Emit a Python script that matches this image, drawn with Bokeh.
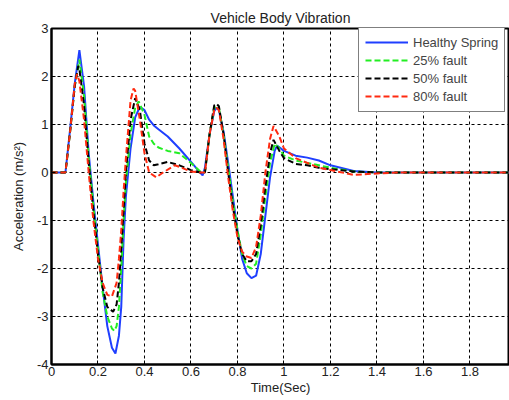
from bokeh.plotting import figure
from bokeh.models import Range1d, FixedTicker, CustomJSTickFormatter
from bokeh.embed import file_html
from bokeh.resources import INLINE

# ---- data ----
t_healthy = [0, 0.06, 0.08, 0.10, 0.12, 0.14, 0.16, 0.18, 0.20, 0.22, 0.24, 0.26, 0.275, 0.29, 0.30, 0.31, 0.32, 0.34,
             0.36, 0.38, 0.40, 0.42, 0.44, 0.46, 0.50, 0.55, 0.60, 0.63, 0.65, 0.66, 0.68, 0.70, 0.71, 0.72, 0.74,
             0.76, 0.78, 0.80, 0.82, 0.84, 0.86, 0.88, 0.90, 0.92, 0.94, 0.96, 0.97, 1.00, 1.05, 1.10, 1.15, 1.20,
             1.30, 1.40, 1.60, 1.80, 2.00]
a_healthy = [0, 0, 0.9, 1.85, 2.55, 1.8, 0.4, -0.6, -1.5, -2.4, -3.2, -3.65, -3.77, -3.4, -2.8, -1.4, -0.5, 0.5,
             1.15, 1.37, 1.3, 1.1, 0.98, 0.9, 0.75, 0.5, 0.22, 0.05, -0.06, 0.1, 0.8, 1.28, 1.35, 1.3, 0.85,
             0.2, -0.5, -1.2, -1.8, -2.1, -2.2, -2.15, -1.7, -0.9, -0.1, 0.45, 0.56, 0.45, 0.35, 0.31, 0.25, 0.15,
             0.03, 0.0, 0.0, 0.0, 0.0]

t_25 = [0, 0.06, 0.08, 0.10, 0.12, 0.14, 0.16, 0.18, 0.20, 0.22, 0.24, 0.26, 0.27, 0.28, 0.29, 0.30, 0.31, 0.32, 0.34,
        0.36, 0.375, 0.40, 0.42, 0.44, 0.46, 0.50, 0.55, 0.60, 0.64, 0.66, 0.68, 0.70, 0.71, 0.72, 0.74,
        0.76, 0.78, 0.80, 0.82, 0.84, 0.86, 0.88, 0.90, 0.92, 0.94, 0.96, 0.98, 1.00, 1.05, 1.10, 1.15, 1.20,
        1.30, 1.40, 1.60, 1.80, 2.00]
a_25 = [0, 0, 0.85, 1.8, 2.35, 1.6, 0.3, -0.7, -1.6, -2.5, -3.0, -3.25, -3.3, -3.2, -2.8, -2.0, -1.0, -0.2, 0.8,
        1.35, 1.48, 1.2, 0.75, 0.6, 0.52, 0.45, 0.4, 0.2, 0.02, 0.0, 0.8, 1.35, 1.38, 1.35, 0.8,
        0.1, -0.6, -1.2, -1.7, -1.95, -2.0, -1.9, -1.3, -0.5, 0.2, 0.6, 0.5, 0.35, 0.25, 0.2, 0.15, 0.1,
        0.02, 0.0, 0.0, 0.0, 0.0]

t_50 = [0, 0.06, 0.08, 0.10, 0.115, 0.12, 0.14, 0.16, 0.18, 0.20, 0.22, 0.24, 0.265, 0.28, 0.29, 0.30, 0.31, 0.32, 0.34,
        0.36, 0.38, 0.40, 0.42, 0.44, 0.46, 0.50, 0.55, 0.60, 0.64, 0.66, 0.68, 0.70, 0.71, 0.72, 0.74,
        0.76, 0.78, 0.80, 0.82, 0.84, 0.86, 0.88, 0.90, 0.92, 0.94, 0.955, 0.98, 1.00, 1.05, 1.10, 1.15, 1.20,
        1.30, 1.40, 1.60, 1.80, 2.00]
a_50 = [0, 0, 0.85, 1.8, 2.22, 2.15, 1.4, 0.2, -0.8, -1.7, -2.4, -2.8, -2.9, -2.75, -2.3, -1.6, -0.8, 0.0, 1.1,
        1.55, 1.3, 0.6, 0.25, 0.15, 0.17, 0.22, 0.15, 0.05, 0.0, 0.0, 0.8, 1.4, 1.43, 1.38, 0.8,
        0.0, -0.7, -1.3, -1.7, -1.85, -1.85, -1.7, -1.1, -0.3, 0.4, 0.68, 0.45, 0.3, 0.18, 0.15, 0.1, 0.07,
        0.02, 0.0, 0.0, 0.0, 0.0]

t_80 = [0, 0.06, 0.08, 0.10, 0.11, 0.12, 0.14, 0.16, 0.18, 0.20, 0.22, 0.24, 0.26, 0.28, 0.29, 0.30, 0.31, 0.32, 0.34,
        0.353, 0.36, 0.38, 0.40, 0.42, 0.45, 0.48, 0.53, 0.56, 0.60, 0.64, 0.66, 0.68, 0.70, 0.71, 0.72, 0.74,
        0.76, 0.78, 0.80, 0.82, 0.84, 0.86, 0.88, 0.90, 0.92, 0.94, 0.955, 0.98, 1.00, 1.05, 1.10, 1.15, 1.20,
        1.30, 1.40, 1.50, 1.60, 1.80, 2.00]
a_80 = [0, 0, 0.85, 1.85, 2.05, 1.9, 1.1, 0.0, -1.0, -1.8, -2.3, -2.55, -2.58, -2.3, -1.8, -1.2, -0.4, 0.3, 1.5,
        1.75, 1.7, 1.1, 0.4, 0.0, -0.1, 0.0, 0.15, 0.1, 0.02, 0.0, 0.0, 0.8, 1.3, 1.35, 1.3, 0.7,
        -0.1, -0.8, -1.35, -1.65, -1.75, -1.78, -1.55, -0.9, 0.0, 0.7, 0.97, 0.75, 0.5, 0.3, 0.2, 0.1, 0.05,
        -0.05, -0.02, 0.0, 0.0, 0.0, 0.0]

x_ticks = [0, 0.2, 0.4, 0.6, 0.8, 1.0, 1.2, 1.4, 1.6, 1.8]
y_ticks = [-4, -3, -2, -1, 0, 1, 2, 3]

FONT = "Liberation Sans"

p = figure(width=509, height=400, output_backend="svg", toolbar_location=None,
           x_range=Range1d(0, 1.97), y_range=Range1d(-4, 3),
           title="Vehicle Body Vibration",
           min_border_left=51, min_border_right=0, min_border_top=28, min_border_bottom=36)

p.title.align = "center"
p.title.text_font = FONT
p.title.text_font_size = "14px"
p.title.text_font_style = "normal"
p.title.text_color = "#222222"
p.title.standoff = 5

series = [
    (t_healthy, a_healthy, "#1f3fff", "solid", "Healthy Spring"),
    (t_25, a_25, "#22ee22", "6 3", "25% fault"),
    (t_50, a_50, "#000000", "6 3", "50% fault"),
    (t_80, a_80, "#ff2a10", "6 3", "80% fault"),
]
for tx, ay, col, dash, lab in series:
    p.line(tx, ay, line_color=col, line_width=2, line_dash=dash, legend_label=lab)

p.xaxis.ticker = FixedTicker(ticks=x_ticks)
p.yaxis.ticker = FixedTicker(ticks=y_ticks)
p.xaxis.formatter = CustomJSTickFormatter(code="return tick.toFixed(1).replace(/\\.0$/, '');")
p.yaxis.formatter = CustomJSTickFormatter(code="return tick.toFixed(0);")

for ax in (p.xaxis[0], p.yaxis[0]):
    ax.axis_line_width = 2
    ax.axis_line_color = "black"
    ax.major_tick_in = 4
    ax.major_tick_out = 0
    ax.minor_tick_line_color = None
    ax.major_label_text_font = FONT
    ax.major_label_text_font_size = "13px"
    ax.major_label_text_color = "#222222"
    ax.axis_label_text_font = FONT
    ax.axis_label_text_font_size = "13px"
    ax.axis_label_text_font_style = "normal"
    ax.axis_label_text_color = "#222222"

p.xaxis.axis_label = "Time(Sec)"
p.yaxis.axis_label = "Acceleration (m/s²)"
p.xaxis.major_label_standoff = 2
p.xaxis.axis_label_standoff = 1
p.yaxis.major_label_standoff = 3
p.yaxis.axis_label_standoff = 8

p.xgrid.grid_line_color = "black"
p.ygrid.grid_line_color = "black"
p.xgrid.grid_line_dash = "3 3"
p.ygrid.grid_line_dash = "3 3"
p.xgrid.grid_line_width = 1
p.ygrid.grid_line_width = 1

p.outline_line_color = "black"
p.outline_line_width = 2

p.legend.location = (307, 252)
p.legend.border_line_color = "black"
p.legend.border_line_width = 1.5
p.legend.background_fill_color = "white"
p.legend.background_fill_alpha = 1
p.legend.label_text_font = FONT
p.legend.label_text_font_size = "13px"
p.legend.glyph_width = 43
p.legend.glyph_height = 18
p.legend.label_height = 18
p.legend.spacing = 0
p.legend.padding = 6
p.legend.margin = 0
p.legend.label_standoff = 5

open("out.html", "w").write(file_html(p, INLINE))
